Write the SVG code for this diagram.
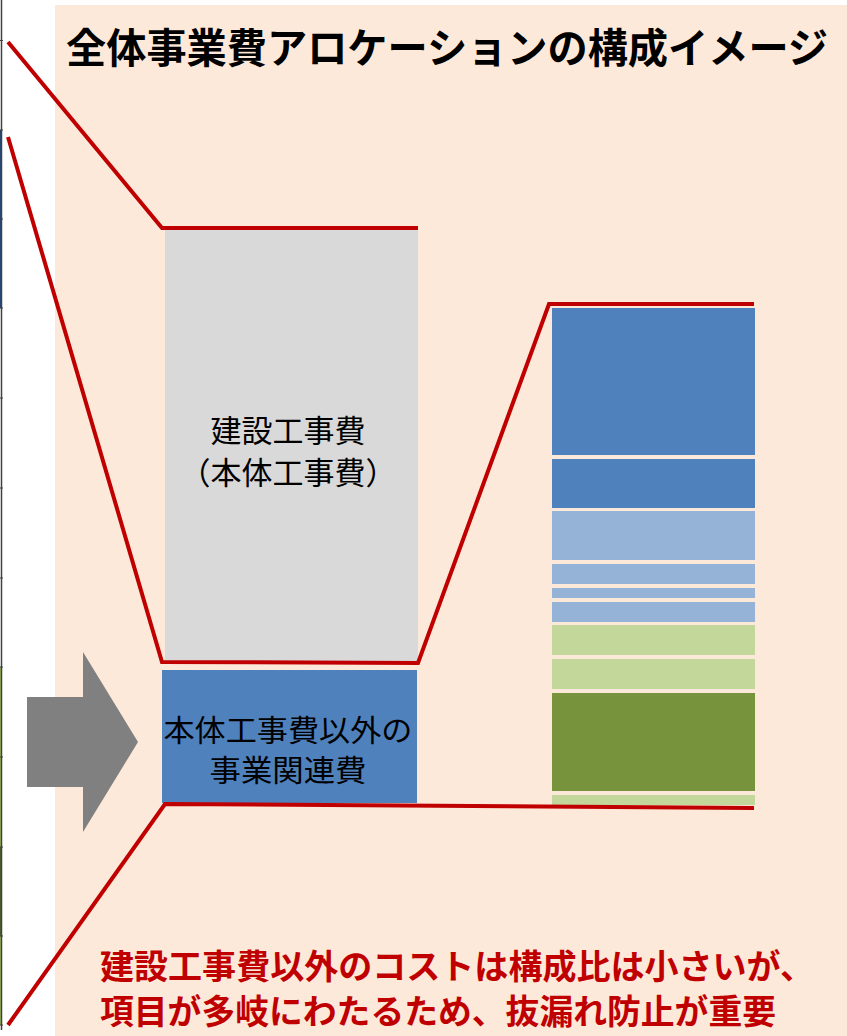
<svg xmlns="http://www.w3.org/2000/svg" width="847" height="1036" viewBox="0 0 847 1036">
<style>
.red{fill:none;stroke:#C00000;stroke-width:4;stroke-linejoin:miter}
.lbl{font-family:"Noto Sans CJK JP","Noto Sans",sans-serif;font-size:31px;fill:#000;text-anchor:middle}
.bold{font-family:"Noto Sans CJK JP","Noto Sans",sans-serif;font-weight:bold}
.tick{stroke:#404040;stroke-width:1}
</style>
<rect x="0" y="0" width="847" height="1036" fill="#FFFFFF"/>
<g id="left-axis">
<rect x="0" y="130" width="1.2" height="178" fill="#1F497D"/>
<rect x="0" y="667" width="1.2" height="180" fill="#9BBB59"/>
<rect x="0" y="847" width="1.2" height="89" fill="#4F6228"/>
<rect x="0" y="936" width="1.2" height="89" fill="#9BBB59"/>
<line x1="1.5" y1="0" x2="1.5" y2="1030" stroke="#404040" stroke-width="1.5"/>
<g class="tick">
<line x1="0" y1="40.5" x2="3" y2="40.5"/><line x1="0" y1="130" x2="3" y2="130"/>
<line x1="0" y1="219" x2="3" y2="219"/><line x1="0" y1="308" x2="3" y2="308"/>
<line x1="0" y1="398" x2="3" y2="398"/><line x1="0" y1="488" x2="3" y2="488"/>
<line x1="0" y1="578" x2="3" y2="578"/><line x1="0" y1="667" x2="3" y2="667"/>
<line x1="0" y1="757" x2="3" y2="757"/><line x1="0" y1="847" x2="3" y2="847"/>
<line x1="0" y1="936" x2="3" y2="936"/><line x1="0" y1="1025" x2="3" y2="1025"/>
</g>
</g>
<rect id="panel" x="55" y="5" width="792" height="1031" fill="#FDE9D9"/>
<g id="title">
<text class="bold" x="66" y="63" font-size="41" fill="#000" textLength="762" lengthAdjust="spacingAndGlyphs">全体事業費アロケーションの構成イメージ</text>
</g>
<g id="arrow">
<polygon points="27,697 83,697 83,652 138,742 83,832 83,787 27,787" fill="#808080"/>
</g>
<g id="construction">
<rect x="165" y="228" width="253" height="435" fill="#D9D9D9"/>
<text class="lbl" x="288" y="442">建設工事費</text>
<text class="lbl" x="288" y="484">（本体工事費）</text>
</g>
<g id="other-costs">
<rect x="162" y="670" width="255" height="133" fill="#4F81BD"/>
<text class="lbl" x="288" y="741" textLength="249" lengthAdjust="spacingAndGlyphs" style="font-size:30px">本体工事費以外の</text>
<text class="lbl" x="288" y="781" textLength="157" lengthAdjust="spacingAndGlyphs" style="font-size:30px">事業関連費</text>
</g>
<g id="breakdown">
<rect x="552" y="308" width="203" height="147" fill="#4F81BD"/>
<rect x="552" y="459" width="203" height="49" fill="#4F81BD"/>
<rect x="552" y="511" width="203" height="49" fill="#95B3D7"/>
<rect x="552" y="564" width="203" height="20" fill="#95B3D7"/>
<rect x="552" y="588" width="203" height="10" fill="#95B3D7"/>
<rect x="552" y="602" width="203" height="20" fill="#95B3D7"/>
<rect x="552" y="625" width="203" height="30" fill="#C4D79B"/>
<rect x="552" y="659" width="203" height="30" fill="#C4D79B"/>
<rect x="552" y="693" width="203" height="98" fill="#77933C"/>
<rect x="552" y="795" width="203" height="10" fill="#C4D79B"/>
</g>
<g id="connectors">
<polyline class="red" points="8,42 162,228 418,228"/>
<polyline class="red" points="8,137 162,662 418,663 549,304 754,304"/>
<polyline class="red" points="8,1025 165,804 754,808"/>
</g>
<g id="note">
<text class="bold" x="100" y="979" font-size="34" fill="#C00000" textLength="714" lengthAdjust="spacingAndGlyphs">建設工事費以外のコストは構成比は小さいが、</text>
<text class="bold" x="100" y="1024" font-size="34" fill="#C00000" textLength="676" lengthAdjust="spacingAndGlyphs">項目が多岐にわたるため、抜漏れ防止が重要</text>
</g>
</svg>
